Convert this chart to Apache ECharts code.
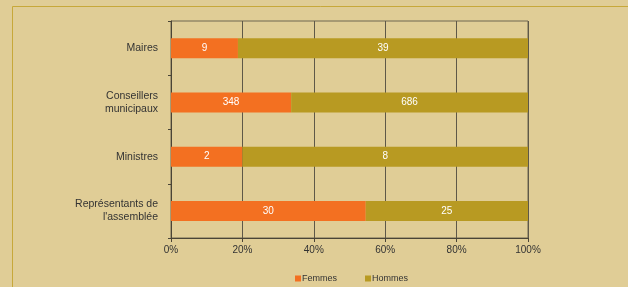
<!DOCTYPE html>
<html>
<head>
<meta charset="utf-8">
<script src="https://cdn.jsdelivr.net/npm/echarts@6/dist/echarts.min.js"></script>
<style>
  html, body { margin: 0; padding: 0; background: #e0cd96; }
  #chart { width: 628px; height: 287px; }
</style>
</head>
<body>
<div id="chart"></div>
<script>
// categories top to bottom
const categories = ['Maires', 'Conseillers\nmunicipaux', 'Ministres', 'Représentants de\nl\'assemblée'];
const femmes = [9, 348, 2, 30];
const hommes = [39, 686, 8, 25];
const xTicks = [0, 20, 40, 60, 80, 100];

const chart = echarts.init(document.getElementById('chart'));

// part en % de chaque série (barres 100 %)
const pct = (arr, i) => arr[i] / (femmes[i] + hommes[i]) * 100;
const mkData = arr => arr.map((v, i) => ({ value: pct(arr, i), raw: v }));

const labelStyle = {
  show: true,
  position: 'inside',
  color: '#fff',
  fontSize: 10,
  fontFamily: 'Liberation Sans',
  formatter: p => p.data.raw
};

chart.setOption({
  backgroundColor: '#e0cd96',
  animation: false,
  graphic: [{
    type: 'rect',
    shape: { x: 12.5, y: 6.5, width: 700, height: 400 },
    style: { fill: 'none', stroke: '#c7a83a', lineWidth: 1 },
    silent: true
  }],
  grid: {
    left: 171,
    right: 100,
    top: 21,
    bottom: 49,
    show: true,
    borderColor: '#6e6650',
    borderWidth: 1,
    backgroundColor: 'transparent'
  },
  legend: {
    top: 269,
    left: 290,
    itemWidth: 6,
    itemHeight: 6,
    itemGap: 28,
    icon: 'rect',
    textStyle: { fontSize: 9, color: '#333', fontFamily: 'Liberation Sans', padding: [0, 0, 0, -4] },
    data: ['Femmes', 'Hommes']
  },
  xAxis: {
    type: 'value',
    min: xTicks[0],
    max: xTicks[xTicks.length - 1],
    interval: 20,
    axisLine: { show: true, lineStyle: { color: '#4a4436' } },
    axisTick: { show: true, length: 4, lineStyle: { color: '#4a4436' } },
    axisLabel: { formatter: '{value}%', fontSize: 10, color: '#333', fontFamily: 'Liberation Sans', margin: 7 },
    splitLine: { show: true, lineStyle: { color: '#5e5848', width: 1 } }
  },
  yAxis: {
    type: 'category',
    inverse: true,
    data: categories,
    axisLine: { show: true, lineStyle: { color: '#4a4436' } },
    axisTick: { show: true, length: 3, lineStyle: { color: '#4a4436' } },
    axisLabel: { fontSize: 10.5, color: '#333', fontFamily: 'Liberation Sans', margin: 13, lineHeight: 13, align: 'right' }
  },
  series: [
    {
      name: 'Femmes',
      type: 'bar',
      stack: 'total',
      barWidth: 20,
      itemStyle: { color: '#f37021' },
      label: labelStyle,
      data: mkData(femmes)
    },
    {
      name: 'Hommes',
      type: 'bar',
      stack: 'total',
      barWidth: 20,
      itemStyle: { color: '#b89a22' },
      label: labelStyle,
      data: mkData(hommes)
    }
  ]
});
</script>
</body>
</html>
